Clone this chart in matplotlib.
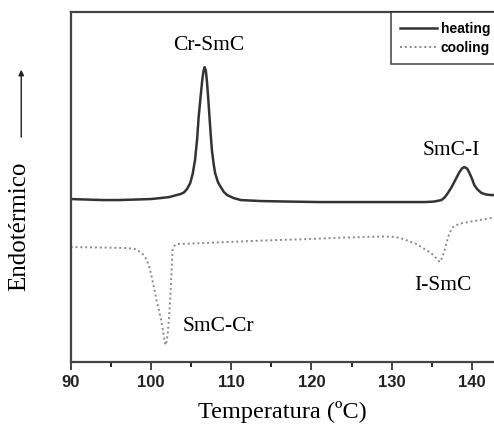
import matplotlib.pyplot as plt
import numpy as np

# DSC traces (arbitrary heat-flow units)
heat_T = [90, 92, 94, 96, 98, 100, 101.2, 102.3, 103.2, 103.7, 104.1, 104.5, 104.9,
          105.2, 105.5, 105.75, 105.95, 106.2, 106.4, 106.55, 106.7, 106.85, 107.0,
          107.15, 107.3, 107.45, 107.6, 107.8, 108.0, 108.35, 108.7, 109.1, 109.5,
          110.3, 111.2, 113.7, 117, 121, 125, 129, 132, 134.2, 135.3, 136.2, 136.6,
          137.0, 137.4, 137.8, 138.15, 138.45, 138.75, 139.05, 139.4, 139.7, 140.0,
          140.3, 140.7, 141.2, 141.8, 142.4, 143]
heat_q = [16.3, 16.25, 16.2, 16.2, 16.25, 16.3, 16.4, 16.5, 16.7, 16.8, 16.95, 17.3,
          17.9, 18.8, 20.2, 22.2, 24.5, 26.6, 28.2, 29.1, 29.5, 29.1, 27.9, 26.3, 24.5,
          22.8, 21.2, 19.9, 18.9, 18.0, 17.5, 17.0, 16.7, 16.4, 16.2, 16.1, 16.05, 16.0,
          16.0, 16.0, 16.0, 16.0, 16.05, 16.2, 16.45, 16.9, 17.4, 18.0, 18.55, 19.0,
          19.35, 19.5, 19.35, 18.9, 18.35, 17.7, 17.25, 16.9, 16.75, 16.7, 16.7]

cool_T = [90, 94, 97.0, 98.0, 98.7, 99.1, 99.5, 99.8, 100.1, 100.4, 100.7, 101.0,
          101.2, 101.45, 101.65, 101.8, 101.95, 102.1, 102.25, 102.4, 102.5, 102.6,
          102.7, 102.9, 103.25, 105, 109.5, 114, 119.5, 124, 129.0, 130.5, 131.5,
          132.4, 133.1, 133.7, 134.3, 134.9, 135.3, 135.7, 136.0, 136.3, 136.6,
          136.9, 137.2, 137.5, 137.8, 138.5, 139.5, 141, 142.4, 143]
cool_q = [11.5, 11.45, 11.4, 11.3, 11.0, 10.7, 10.2, 9.5, 8.5, 7.4, 6.2, 5.2, 4.5,
          3.4, 2.4, 1.7, 2.0, 2.9, 4.4, 6.2, 7.9, 9.5, 11.2, 11.6, 11.8, 11.85, 12.0,
          12.15, 12.3, 12.45, 12.55, 12.5, 12.3, 12.0, 11.8, 11.5, 11.2, 10.9, 10.6,
          10.25, 10.0, 10.45, 11.2, 12.1, 12.9, 13.35, 13.6, 13.85, 14.0, 14.2, 14.4,
          14.45]

labels = ["Cr-SmC", "SmC-I", "I-SmC", "SmC-Cr"]
label_pos = [(107.2, 31.7), (137.4, 21.2), (136.4, 7.7), (108.4, 3.6)]
xticks = [90, 100, 110, 120, 130, 140]

serif = "Liberation Serif"

fig = plt.figure(figsize=(4.94, 4.32), dpi=100)
ax = fig.add_axes([0.143, 0.162, 0.857, 0.810])

ax.plot(heat_T, heat_q, color="#333333", lw=1.8, label="heating")
ax.plot(cool_T, cool_q, color="#8a8a8a", lw=1.4, ls=(0, (1, 1.5)), label="cooling")

for text, (x, y) in zip(labels, label_pos):
    ax.text(x, y, text, family=serif, fontsize=15.5, ha="center", va="center")

ax.set_xlim(90, 142.75)
ax.set_ylim(0, 35)
ax.set_xticks(xticks)
ax.set_xticks(np.arange(95, 143, 10), minor=True)
ax.set_yticks([])
ax.tick_params(axis="x", which="major", direction="out", length=6, width=1.2,
               labelsize=12, colors="#222222")
ax.tick_params(axis="x", which="minor", direction="out", length=3.5, width=1.2)
for lab in ax.get_xticklabels():
    lab.set_fontweight("bold")
    lab.set_family("Liberation Sans")
for side in ["left", "bottom", "top"]:
    ax.spines[side].set_linewidth(1.6)
    ax.spines[side].set_color("#444444")
ax.spines["right"].set_visible(False)

ax.set_xlabel("Temperatura (ºC)", family=serif, fontsize=17.5, labelpad=8)

leg = ax.legend(loc="upper right", bbox_to_anchor=(1.014, 1.0), frameon=True,
                fancybox=False, borderaxespad=0.0, handlelength=2.6,
                handletextpad=0.3, labelspacing=0.35, borderpad=0.7,
                prop={"family": "Liberation Sans", "weight": "bold", "size": 10})
leg.get_frame().set_edgecolor("#222222")
leg.get_frame().set_linewidth(1.2)

fig.text(0.039, 0.477, "Endotérmico", family=serif, fontsize=18, rotation=90,
         ha="center", va="center")
ax.annotate("", xy=(0.043, 0.845), xytext=(0.043, 0.676), xycoords="figure fraction",
            textcoords="figure fraction",
            arrowprops=dict(arrowstyle="-|>", color="#222222", lw=1.0,
                            mutation_scale=8))

fig.savefig("out.png", dpi=100)
